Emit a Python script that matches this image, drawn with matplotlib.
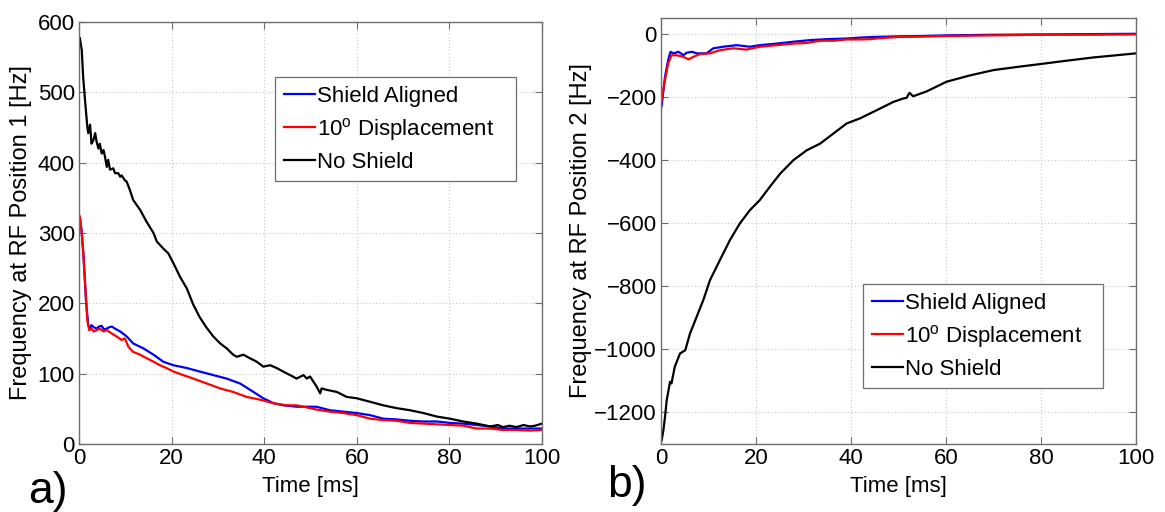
#!/usr/bin/env python3

"""
plot.py - RF position frequency shift vs time, two panels
"""

import matplotlib
matplotlib.use("Agg")
import matplotlib.pyplot as plt

plt.rcParams["font.family"] = ["Liberation Sans", "DejaVu Sans"]
plt.rcParams["mathtext.fontset"] = "custom"
plt.rcParams["mathtext.rm"] = "Liberation Sans"

labels = ["Shield Aligned", r"10$^{\rm o}$ Displacement", "No Shield"]
colours = ["#0000ff", "#ff0000", "#000000"]

# panel a) RF position 1
tAlignedA = [0.2, 0.6, 0.94, 1.5, 2.0, 2.4, 2.7, 3.2, 3.8, 4.3, 4.9, 5.4, 6.0, 6.5, 7.1, 7.8, 8.9,
             10.3, 11.7, 13.9, 16.1, 18.2, 20.4, 23.3, 26.1, 29.0, 31.9, 34.8, 37.7, 39.8, 42.0,
             44.1, 47.0, 51.3, 54.2, 57.1, 60.0, 62.9, 65.7, 68.6, 71.5, 74.4, 77.3, 80.1, 83.0,
             85.9, 88.8, 91.6, 94.5, 97.4, 100]
fAlignedA = [323, 300, 271, 205, 169, 164, 169, 166, 164, 167, 168, 163, 164, 166, 167, 164, 160,
             153, 143, 136, 127, 117, 112, 108, 103, 98, 93, 86, 74, 65, 58,
             55, 53, 53, 48, 46, 44, 41, 36, 35, 33, 32, 32, 30, 29,
             27, 25, 22, 22, 22, 22]

tDisplacedA = [0.2, 0.6, 1.0, 1.8, 2.2, 2.7, 3.2, 3.8, 4.5, 5.3, 6.0, 7.1, 8.1, 9.2, 9.9, 10.7,
               11.7, 13.2, 14.6, 16.1, 17.5, 18.9, 20.4, 22.5, 24.7, 27.6, 30.5, 33.3, 36.2, 39.1,
               42.0, 44.9, 47.0, 48.5, 51.3, 54.2, 57.1, 60.0, 62.9, 65.7, 68.6, 71.5, 74.4, 77.3,
               80.1, 83.0, 85.9, 88.8, 91.6, 94.5, 97.4, 100]
fDisplacedA = [323, 300, 265, 176, 162, 164, 160, 162, 164, 160, 162, 157, 153, 148, 150, 138,
               131, 127, 122, 117, 112, 108, 103, 98, 93, 86, 79, 74, 67, 63,
               58, 55, 55, 53, 49, 46, 44, 41, 36, 34, 33, 30, 29, 28,
               27, 26, 22, 22, 20, 20, 19, 20]

tNoShieldA = [0.2, 0.6, 0.9, 1.3, 1.8, 2.0, 2.4, 2.7, 3.1, 3.5, 3.8, 4.2, 4.5, 4.9, 5.3, 5.6, 6.0,
              6.3, 6.7, 7.4, 7.8, 8.5, 8.9, 9.2, 9.9, 10.3, 11.0, 11.7, 13.2, 14.6, 16.1, 16.8,
              18.2, 19.3, 20.4, 21.8, 23.3, 24.7, 26.1, 27.6, 29.0, 30.5, 31.9, 33.3, 34.1, 35.5,
              36.9, 38.4, 39.8, 41.3, 42.7, 44.1, 45.6, 47.0, 48.5, 49.2, 49.9, 50.6, 51.3, 52.1,
              52.4, 53.5, 55.7, 57.8, 60.0, 62.9, 65.7, 68.6, 71.5, 74.4, 77.3, 80.1, 83.0, 85.9,
              88.8, 90.5, 91.6, 93.0, 94.5, 96.0, 97.4, 98.5, 100]
fNoShieldA = [577, 560, 522, 489, 451, 442, 454, 427, 432, 442, 430, 420, 427, 413, 418, 409, 394,
              404, 390, 392, 385, 385, 380, 382, 375, 373, 361, 347, 333, 316, 300, 288,
              278, 271, 257, 238, 221, 198, 180, 165, 153, 143, 136, 127, 124, 127,
              122, 117, 110, 112, 108, 103, 98, 93, 98, 93, 96, 89, 82, 72,
              79, 77, 74, 67, 65, 60, 55, 51, 48, 44, 39, 36, 32, 29,
              25, 27, 24, 26, 24, 27, 25, 26, 29]

# panel b) RF position 2
tAlignedB = [0.14, 0.5, 0.84, 1.5, 2.0, 2.6, 3.1, 3.6, 4.2, 4.7, 5.4, 6.5, 7.5, 9.6, 11.0, 13.1,
             15.9, 18.7, 20.8, 24.4, 27.9, 31.4, 34.9, 39.1, 41.9, 45, 50, 55, 60, 70, 80, 90, 100]
fAlignedB = [-229, -180, -136, -83, -57, -62, -60, -57, -62, -68, -60, -57, -62, -62, -46, -41,
             -36, -41, -36, -31, -25, -20, -17, -15, -12, -10, -8, -7, -5, -3, -2, -1, 0]

tDisplacedB = [0.14, 0.5, 0.84, 1.5, 2.2, 3.3, 4.7, 5.8, 6.8, 8.2, 10.3, 12.4, 15.2, 18.0, 20.8,
               24.4, 27.9, 30.7, 33.5, 36.3, 39.1, 41.9, 44, 46, 50, 55, 60, 70, 80, 90, 100]
fDisplacedB = [-210, -175, -147, -94, -68, -68, -73, -81, -73, -64, -62, -52, -46, -50, -41,
               -36, -31, -29, -22, -22, -18, -18, -17, -14, -10, -9, -7, -5, -3, -3, -2]

tNoShieldB = [0.14, 0.5, 0.84, 1.2, 1.9, 2.2, 2.9, 4.0, 5.1, 6.1, 7.5, 8.9, 10.3, 12.4, 14.5,
              16.6, 18.7, 20.8, 22.9, 25.1, 27.9, 30.7, 33.5, 36.3, 39.1, 41.9, 46.1, 48.9, 51.0,
              51.7, 52.3, 53.1, 56.0, 60.1, 65.0, 70.0, 75.0, 79.8, 85.0, 91.0, 100]
fNoShieldB = [-1288, -1256, -1214, -1161, -1103, -1108, -1055, -1013, -1003, -950, -897, -844,
              -781, -717, -654, -601, -559, -527, -485, -443, -400, -369, -348, -316, -284, -268,
              -237, -216, -205, -203, -187, -198, -182, -152, -132, -115, -105, -96, -86, -75, -62]

xTicks = [0, 20, 40, 60, 80, 100]
yTicksA = [0, 100, 200, 300, 400, 500, 600]
yTicksB = [-1200, -1000, -800, -600, -400, -200, 0]


def styleAxes(ax):
    for s in ax.spines.values():
        s.set_color("#6e6e6e")
        s.set_linewidth(1.0)
    ax.tick_params(direction="in", top=True, right=True, length=5, width=0.8,
                   color="#6e6e6e", labelsize=16, pad=3)
    ax.grid(True, linestyle=(0, (1, 2)), color="#c8c8c8", linewidth=0.8)
    ax.set_axisbelow(True)


def plotPanel(ax, series, yTicks, yLim, yLabel, legendBox):
    for (t, f), lab, c in zip(series, labels, colours):
        ax.plot(t, f, color=c, linewidth=1.6, label=lab)
    ax.set_xlim(0, 100)
    ax.set_ylim(*yLim)
    ax.set_xticks(xTicks)
    ax.set_yticks(yTicks)
    styleAxes(ax)
    ax.set_xlabel("Time [ms]", fontsize=16)
    ax.set_ylabel(yLabel, fontsize=17)
    leg = ax.legend(loc="upper left", bbox_to_anchor=legendBox, mode="expand",
                    fontsize=16, handlelength=1.4, handletextpad=0.1,
                    labelspacing=0.4, borderpad=0.4, fancybox=False,
                    framealpha=1, borderaxespad=0)
    leg.get_frame().set_edgecolor("#6e6e6e")
    leg.get_frame().set_linewidth(0.9)
    return ax


def main():
    fig = plt.figure(figsize=(11.65, 5.12), dpi=100)
    axA = fig.add_axes([0.0678, 0.1328, 0.3974, 0.8242])
    axB = fig.add_axes([0.5674, 0.1328, 0.4077, 0.832])

    plotPanel(axA, [(tAlignedA, fAlignedA), (tDisplacedA, fDisplacedA), (tNoShieldA, fNoShieldA)],
              yTicksA, (0, 600), "Frequency at RF Position 1 [Hz]", (0.423, 0.618, 0.521, 0.252))
    plotPanel(axB, [(tAlignedB, fAlignedB), (tDisplacedB, fDisplacedB), (tNoShieldB, fNoShieldB)],
              yTicksB, (-1300, 50), "Frequency at RF Position 2 [Hz]", (0.425, 0.129, 0.506, 0.247))

    axA.xaxis.set_label_coords(0.5, -0.075)
    axB.xaxis.set_label_coords(0.5, -0.075)
    axA.yaxis.set_label_coords(-0.101, 0.5)
    axB.yaxis.set_label_coords(-0.145, 0.5)

    fig.text(28 / 1165, 1 - 503 / 512, "a)", fontsize=32, va="baseline")
    fig.text(607 / 1165, 1 - 497 / 512, "b)", fontsize=32, va="baseline")

    fig.savefig("out.png", dpi=100)


if __name__ == "__main__":
    main()
